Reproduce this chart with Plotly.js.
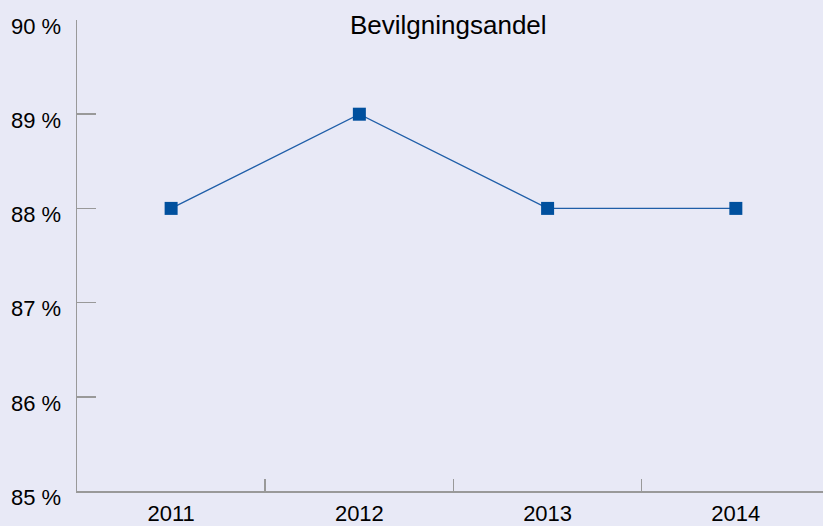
<!DOCTYPE html>
<html><head><meta charset="utf-8">
<script src="https://cdn.plot.ly/plotly-3.0.1.min.js"></script>
<style>html,body{margin:0;padding:0;background:#e8e9f6;}</style>
</head><body>
<div id="chart" style="width:823px;height:526px;"></div>
<script>
const years = ["2011", "2012", "2013", "2014"];
const andel = [88, 89, 88, 88];
const yTicks = [85, 86, 87, 88, 89, 90];
const titleText = "Bevilgningsandel";

const trace = {
  x: years, y: andel, type: "scatter", mode: "lines+markers",
  line: {color: "#1f5ea8", width: 1.3},
  marker: {symbol: "square", size: 13, color: "#00509e"},
  hoverinfo: "x+y"
};
const layout = {
  width: 823, height: 526,
  margin: {l: 77, r: 0, t: 20, b: 35, pad: 0},
  paper_bgcolor: "#e8e9f6", plot_bgcolor: "#e8e9f6",
  font: {family: "Liberation Sans, Arial, sans-serif", size: 22, color: "#000"},
  showlegend: false,
  xaxis: {
    type: "category", range: [-0.5, 3.463], tickson: "boundaries",
    ticks: "inside", ticklen: 12, tickwidth: 1.5, tickcolor: "#999",
    showline: true, linecolor: "#999", linewidth: 1.5,
    showgrid: false, zeroline: false, ticklabelstandoff: 2,
    tickfont: {size: 22}
  },
  yaxis: {
    range: [85, 90], tickmode: "array", tickvals: yTicks,
    ticktext: yTicks.map(v => v + " %"),
    ticks: "inside", ticklen: 19, tickwidth: 1.5, tickcolor: "#999",
    showline: true, linecolor: "#999", linewidth: 1.5,
    showgrid: false, zeroline: false, ticklabelstandoff: 10,
    ticklabelshift: 6,
    tickfont: {size: 22}
  },
  annotations: [{
    text: titleText, xref: "paper", yref: "paper", x: 0.5, y: 1.0,
    xanchor: "center", yanchor: "top", showarrow: false, yshift: 12, xshift: -2,
    font: {size: 26, color: "#000"}
  }]
};
Plotly.newPlot("chart", [trace], layout, {displayModeBar: false, staticPlot: true});
</script>
</body></html>
